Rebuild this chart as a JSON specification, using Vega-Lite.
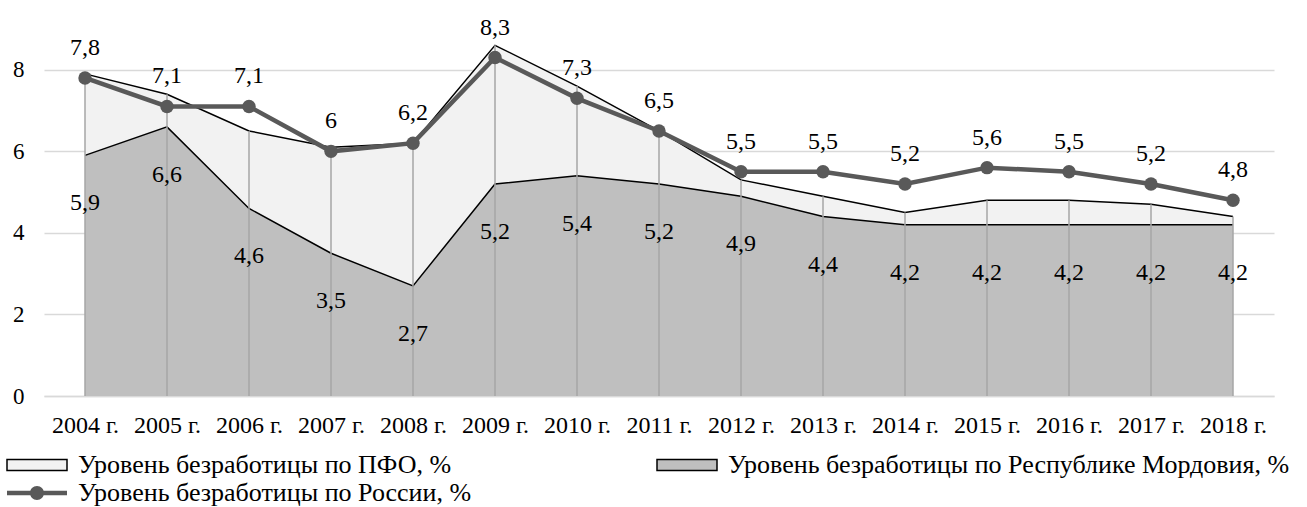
{
  "$schema": "https://vega.github.io/schema/vega-lite/v6.json",
  "width": 1230,
  "height": 367,
  "autosize": {"type": "none"},
  "padding": {"left": 44, "top": 29, "right": 33, "bottom": 111},
  "background": "white",
  "config": {
    "locale": {"number": {"decimal": ",", "thousands": " ", "grouping": [3], "currency": ["", ""]}},
    "view": {"stroke": null},
    "font": "Liberation Serif",
    "text": {"font": "Liberation Serif"},
    "mark": {"font": "Liberation Serif"},
    "axis": {"labelFont": "Liberation Serif", "labelColor": "black", "ticks": false, "title": null}
  },
  "data": {"values": [
    {"year": "2004 г.", "series": "Уровень безработицы по ПФО, %", "value": 7.9},
    {"year": "2005 г.", "series": "Уровень безработицы по ПФО, %", "value": 7.4},
    {"year": "2006 г.", "series": "Уровень безработицы по ПФО, %", "value": 6.5},
    {"year": "2007 г.", "series": "Уровень безработицы по ПФО, %", "value": 6.1},
    {"year": "2008 г.", "series": "Уровень безработицы по ПФО, %", "value": 6.2},
    {"year": "2009 г.", "series": "Уровень безработицы по ПФО, %", "value": 8.6},
    {"year": "2010 г.", "series": "Уровень безработицы по ПФО, %", "value": 7.6},
    {"year": "2011 г.", "series": "Уровень безработицы по ПФО, %", "value": 6.5},
    {"year": "2012 г.", "series": "Уровень безработицы по ПФО, %", "value": 5.3},
    {"year": "2013 г.", "series": "Уровень безработицы по ПФО, %", "value": 4.9},
    {"year": "2014 г.", "series": "Уровень безработицы по ПФО, %", "value": 4.5},
    {"year": "2015 г.", "series": "Уровень безработицы по ПФО, %", "value": 4.8},
    {"year": "2016 г.", "series": "Уровень безработицы по ПФО, %", "value": 4.8},
    {"year": "2017 г.", "series": "Уровень безработицы по ПФО, %", "value": 4.7},
    {"year": "2018 г.", "series": "Уровень безработицы по ПФО, %", "value": 4.4},
    {"year": "2004 г.", "series": "Уровень безработицы по Республике Мордовия, %", "value": 5.9},
    {"year": "2005 г.", "series": "Уровень безработицы по Республике Мордовия, %", "value": 6.6},
    {"year": "2006 г.", "series": "Уровень безработицы по Республике Мордовия, %", "value": 4.6},
    {"year": "2007 г.", "series": "Уровень безработицы по Республике Мордовия, %", "value": 3.5},
    {"year": "2008 г.", "series": "Уровень безработицы по Республике Мордовия, %", "value": 2.7},
    {"year": "2009 г.", "series": "Уровень безработицы по Республике Мордовия, %", "value": 5.2},
    {"year": "2010 г.", "series": "Уровень безработицы по Республике Мордовия, %", "value": 5.4},
    {"year": "2011 г.", "series": "Уровень безработицы по Республике Мордовия, %", "value": 5.2},
    {"year": "2012 г.", "series": "Уровень безработицы по Республике Мордовия, %", "value": 4.9},
    {"year": "2013 г.", "series": "Уровень безработицы по Республике Мордовия, %", "value": 4.4},
    {"year": "2014 г.", "series": "Уровень безработицы по Республике Мордовия, %", "value": 4.2},
    {"year": "2015 г.", "series": "Уровень безработицы по Республике Мордовия, %", "value": 4.2},
    {"year": "2016 г.", "series": "Уровень безработицы по Республике Мордовия, %", "value": 4.2},
    {"year": "2017 г.", "series": "Уровень безработицы по Республике Мордовия, %", "value": 4.2},
    {"year": "2018 г.", "series": "Уровень безработицы по Республике Мордовия, %", "value": 4.2},
    {"year": "2004 г.", "series": "Уровень безработицы по России, %", "value": 7.8},
    {"year": "2005 г.", "series": "Уровень безработицы по России, %", "value": 7.1},
    {"year": "2006 г.", "series": "Уровень безработицы по России, %", "value": 7.1},
    {"year": "2007 г.", "series": "Уровень безработицы по России, %", "value": 6.0},
    {"year": "2008 г.", "series": "Уровень безработицы по России, %", "value": 6.2},
    {"year": "2009 г.", "series": "Уровень безработицы по России, %", "value": 8.3},
    {"year": "2010 г.", "series": "Уровень безработицы по России, %", "value": 7.3},
    {"year": "2011 г.", "series": "Уровень безработицы по России, %", "value": 6.5},
    {"year": "2012 г.", "series": "Уровень безработицы по России, %", "value": 5.5},
    {"year": "2013 г.", "series": "Уровень безработицы по России, %", "value": 5.5},
    {"year": "2014 г.", "series": "Уровень безработицы по России, %", "value": 5.2},
    {"year": "2015 г.", "series": "Уровень безработицы по России, %", "value": 5.6},
    {"year": "2016 г.", "series": "Уровень безработицы по России, %", "value": 5.5},
    {"year": "2017 г.", "series": "Уровень безработицы по России, %", "value": 5.2},
    {"year": "2018 г.", "series": "Уровень безработицы по России, %", "value": 4.8}
  ]},
  "encoding": {
    "x": {"field": "year", "type": "ordinal", "scale": {"type": "point", "padding": 0.5},
          "axis": {"labelAngle": 0, "labelPadding": 17, "labelFontSize": 24, "domain": true, "domainColor": "#d9d9d9", "domainWidth": 1.5, "grid": false}},
    "y": {"field": "value", "type": "quantitative", "scale": {"domain": [0, 9], "nice": false},
          "axis": {"values": [0, 2, 4, 6, 8], "domain": false, "grid": true, "gridColor": "#d9d9d9", "gridWidth": 1.5, "labelPadding": 20, "labelFontSize": 23, "format": "d"}}
  },
  "layer": [
    {
      "mark": {"type": "area", "opacity": 1},
      "transform": [{"filter": "datum.series === 'Уровень безработицы по ПФО, %'"}],
      "encoding": {
        "fill": {"field": "series", "type": "nominal",
          "scale": {"domain": ["Уровень безработицы по ПФО, %", "Уровень безработицы по России, %", "Уровень безработицы по Республике Мордовия, %"],
                    "range": ["#f2f2f2", "#595959", "#bfbfbf"]},
          "legend": {
            "title": null, "orient": "none", "legendX": -39, "legendY": 423, "columns": 2, "columnPadding": 182, "rowPadding": 2,
            "labelFont": "Liberation Serif", "labelFontSize": 26, "labelColor": "black", "labelLimit": 0,
            "symbolSize": 400, "symbolOffset": 19, "labelOffset": 28, "symbolStrokeWidth": 1.5, "symbolOpacity": 1, "symbolStrokeColor": "black",
            "symbolType": {"expr": "'M-3,-0.55H3V0.55H-3Z'"},
            "encode": {"symbols": {"update": {
              "shape": {"signal": "datum.value === 'Уровень безработицы по России, %' ? 'M-3,-0.22H3V0.22H-3Z M0.7,0A0.7,0.7,0,1,1,-0.7,0A0.7,0.7,0,1,1,0.7,0Z' : 'M-3,-0.55H3V0.55H-3Z'"},
              "stroke": {"signal": "datum.value === 'Уровень безработицы по России, %' ? '#595959' : 'black'"},
              "strokeWidth": {"signal": "datum.value === 'Уровень безработицы по России, %' ? 0 : 1.5"}
            }}}
          }}
      }
    },
    {
      "transform": [{"filter": "datum.series === 'Уровень безработицы по Республике Мордовия, %'"}],
      "mark": {"type": "area", "opacity": 1, "fill": "#bfbfbf"},
      "encoding": {}
    },
    {
      "transform": [{"filter": "datum.series !== 'Уровень безработицы по России, %'"}],
      "mark": {"type": "line", "color": "black", "strokeWidth": 1.5},
      "encoding": {"detail": {"field": "series"}}
    },
    {
      "transform": [{"filter": "datum.series === 'Уровень безработицы по ПФО, %'"}],
      "mark": {"type": "rule", "color": "#a6a6a6", "strokeWidth": 1.5},
      "encoding": {"y2": {"datum": 0}}
    },
    {
      "transform": [{"filter": "datum.series === 'Уровень безработицы по России, %'"}],
      "mark": {"type": "line", "color": "#595959", "strokeWidth": 4.5},
      "encoding": {}
    },
    {
      "transform": [{"filter": "datum.series === 'Уровень безработицы по России, %'"}],
      "mark": {"type": "point", "shape": "circle", "filled": true, "color": "#595959", "size": 180, "opacity": 1},
      "encoding": {}
    },
    {
      "transform": [{"filter": "datum.series === 'Уровень безработицы по России, %'"}],
      "mark": {"type": "text", "font": "Liberation Serif", "fontSize": 24, "color": "black", "dy": -30, "baseline": "middle"},
      "encoding": {"text": {"field": "value", "type": "quantitative", "format": ".1~f"}}
    },
    {
      "transform": [{"filter": "datum.series === 'Уровень безработицы по Республике Мордовия, %'"}],
      "mark": {"type": "text", "font": "Liberation Serif", "fontSize": 24, "color": "black", "dy": 48, "baseline": "middle"},
      "encoding": {"text": {"field": "value", "type": "quantitative", "format": ".1~f"}}
    }
  ]
}
